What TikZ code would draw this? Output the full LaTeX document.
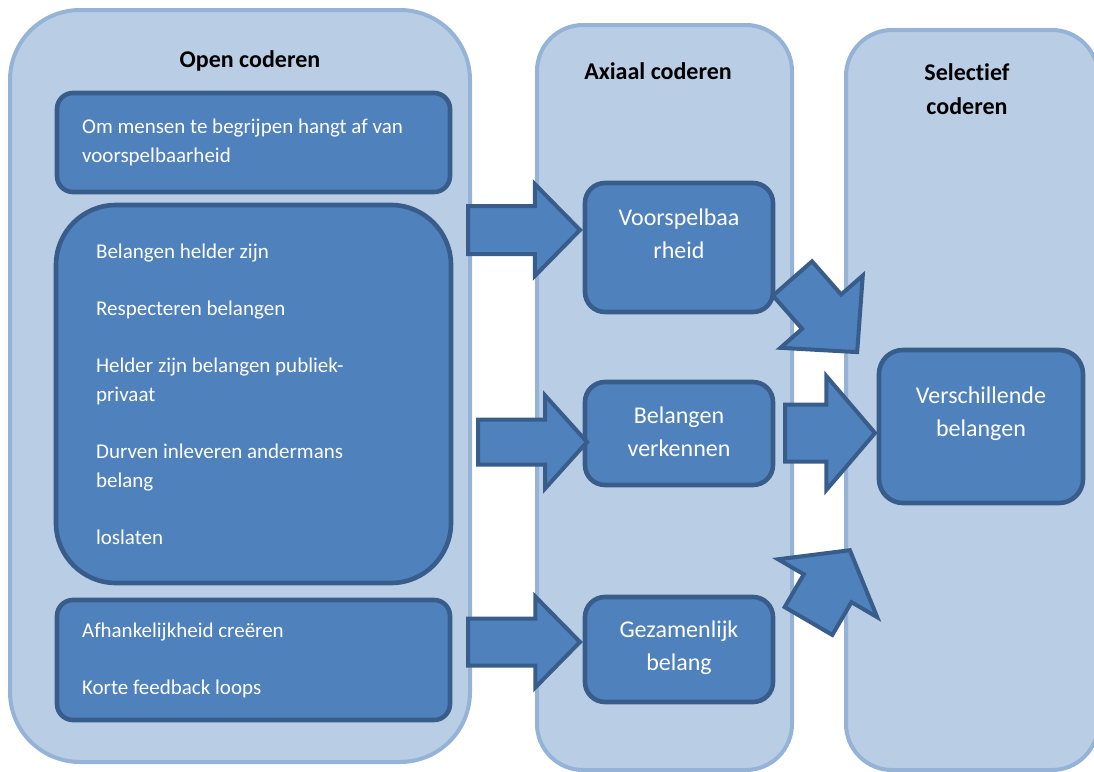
\documentclass[tikz,border=0pt]{standalone}
\usepackage{fontspec}
\setmainfont{Carlito}[Ligatures=NoCommon]
\usepackage{tikz}
\usetikzlibrary{positioning,shapes.arrows}

\definecolor{panelfill}{HTML}{B9CDE5}
\definecolor{panelline}{HTML}{95B3D7}
\definecolor{boxfill}{HTML}{4F81BD}
\definecolor{boxline}{HTML}{385D8A}

\begin{document}
\begin{tikzpicture}[
    x=0.5pt, y=-0.5pt,
    panel/.style={rectangle, draw=panelline, fill=panelfill, line width=2pt, inner sep=0pt},
    codebox/.style={rectangle, draw=boxline, fill=boxfill, line width=2.3pt, inner sep=0pt},
    paneltitle/.style={font=\fontsize{12}{17}\selectfont\bfseries, align=center, inner sep=0pt},
    itemtext/.style={font=\fontsize{10.5}{14.5}\selectfont, align=left, text=white, inner sep=0pt},
    axtext/.style={font=\fontsize{12}{16.5}\selectfont, align=center, text=white, inner sep=0pt},
    blockarrow/.style n args={3}{single arrow, draw=boxline, fill=boxfill, line width=2pt,
        inner xsep=0pt, inner ysep=#2, outer sep=0pt, anchor=tail,
        minimum height=#1, minimum width=0pt, single arrow head extend=#3}
]
\useasboundingbox (0,0) rectangle (1094,772);

% Three columns
\node[panel, rounded corners=35pt, minimum width=230pt, minimum height=376pt] (openpanel) at (240,386) {};
\node[panel, rounded corners=23pt, minimum width=127.5pt, minimum height=372.5pt] (axialpanel) at (664.5,397.5) {};
\node[panel, rounded corners=23pt, minimum width=126pt, minimum height=370pt] (selpanel) at (972,400) {};

\node[paneltitle] (opentitle) at (250,61) {Open coderen};
\node[paneltitle] (axialtitle) at (658,71) {Axiaal coderen};
\node[paneltitle] (seltitle) at (967,89) {Selectief\\coderen};

% Open coderen
\node[codebox, rounded corners=8pt, minimum width=196.5pt, minimum height=49.5pt] (ombox) at (253.5,142.5) {};
\node[itemtext, right=13.5pt of ombox.west] (omtext) {Om mensen te begrijpen hangt af van\\voorspelbaarheid};

\node[codebox, rounded corners=30pt, minimum width=197.5pt, minimum height=189pt] (bigbox) at (253.5,394) {};
\node[itemtext, right=21pt of bigbox.west] (bigtext) {Belangen helder zijn\\[14pt]
    Respecteren belangen\\[14pt]
    Helder zijn belangen publiek-\\privaat\\[14pt]
    Durven inleveren andermans\\belang\\[14pt]
    loslaten};

\node[codebox, rounded corners=8pt, minimum width=196.5pt, minimum height=60pt] (fbbox) at (253.5,660) {};
\node[itemtext, right=13.5pt of fbbox.west] (fbtext) {Afhankelijkheid creëren\\[14pt]Korte feedback loops};

% Axiaal coderen
\node[codebox, rounded corners=10pt, minimum width=94pt, minimum height=64.5pt] (voorsp) at (679,247.5) {};
\node[axtext, below=14pt of voorsp.north] (voorsptext) {Voorspelbaa\\rheid};

\node[codebox, rounded corners=10pt, minimum width=94pt, minimum height=51.5pt] (verkennen) at (679,433.5) {};
\node[axtext, below=13.5pt of verkennen.north] (verkennentext) {Belangen\\verkennen};

\node[codebox, rounded corners=10pt, minimum width=94pt, minimum height=52.5pt] (gezamenlijk) at (679,649.5) {};
\node[axtext, below=13pt of gezamenlijk.north] (gezamenlijktext) {Gezamenlijk\\belang};

% Selectief coderen
\node[codebox, rounded corners=12pt, minimum width=102pt, minimum height=76.5pt] (verschil) at (981,426.5) {};
\node[axtext, below=19.5pt of verschil.north] (verschiltext) {Verschillende\\belangen};

% Block arrows
\node[blockarrow={56pt}{11pt}{11pt}, single arrow tip angle=91] (arrowvoorsp) at (468,230) {};
\node[blockarrow={54.5pt}{10.25pt}{12pt}, single arrow tip angle=96] (arrowverkennen) at (478,442) {};
\node[blockarrow={56pt}{10.75pt}{11pt}, single arrow tip angle=91] (arrowgezamenlijk) at (468,642) {};
\node[blockarrow={45pt}{13.25pt}{14.25pt}, single arrow tip angle=99] (arrowmid) at (785,433) {};
\node[blockarrow={49pt}{12pt}{14.4pt}, single arrow tip angle=91, rotate=-48.7] (arrowtop) at (792.5,278.5) {};
\node[blockarrow={41pt}{12.8pt}{14.9pt}, single arrow tip angle=105, rotate=59.7] (arrowbottom) at (808.5,621) {};
\end{tikzpicture}
\end{document}
